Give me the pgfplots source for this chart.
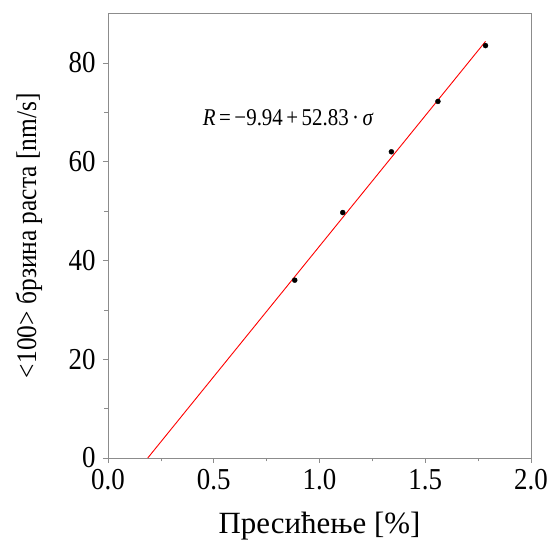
\documentclass[border=0pt]{standalone}
\usepackage{fontspec}
\setmainfont{Liberation Serif}
\usepackage{pgfplots}
\pgfplotsset{compat=1.18}
\definecolor{axgray}{RGB}{140,140,140}
\begin{document}
\begin{tikzpicture}
\begin{axis}[
  name=ax,
  scale only axis,
  width=423bp, height=444.5bp,
  xmin=0, xmax=2, ymin=0, ymax=90,
  xtick={0,0.5,1,1.5,2},
  ytick={0,20,40,60,80},
  minor xtick={0.25,0.75,1.25,1.75},
  minor ytick={10,30,50,70},
  xticklabel style={/pgf/number format/fixed,/pgf/number format/fixed zerofill,/pgf/number format/precision=1},
  /pgf/number format/assume math mode=true,
  xticklabel={\scalebox{1}[1.13]{\pgfmathprintnumber{\tick}}},
  yticklabel={\scalebox{1}[1.13]{\pgfmathprintnumber{\tick}}},
  tick align=outside,
  xtick pos=bottom, ytick pos=left,
  major tick length=5bp, minor tick length=3.5bp,
  axis line style={axgray, line width=0.8bp},
  every tick/.style={axgray, line width=0.6bp},
  tick label style={font=\rmfamily\fontsize{27}{29}\selectfont, black},
  xticklabel style={yshift=-3bp},
  yticklabel style={xshift=-4bp},
  xlabel={Пресићење [\%]},
  ylabel={\scalebox{1}[1.12]{<100> брзина раста [nm/s]}},
  xlabel style={font=\rmfamily\fontsize{31}{33}\selectfont, at={(axis description cs:0.5,-0.153)}, anchor=center},
  ylabel style={font=\rmfamily\fontsize{25.5}{28}\selectfont, at={(axis description cs:-0.187,0.5)}, anchor=center},
  clip=false,
]
\addplot[red, line width=0.9bp, no marks] coordinates {(0.188,0) (1.785,84.36)};
\addplot[only marks, mark=*, mark size=2.5bp, black] coordinates {
(0.883,36.0) (1.11,49.7) (1.34,62.0) (1.56,72.2) (1.785,83.5)};
\node[anchor=base west, inner sep=0pt, font=\fontsize{21}{23}\selectfont] at (axis cs:0.448,67.3) {\scalebox{1}[1.15]{\textit{R}\,=\,−9.94\,+\,52.83\,·\,\textit{σ}}};
\end{axis}
\pgfresetboundingbox
\path[use as bounding box] ([shift={(-108bp,-85bp)}]ax.south west) rectangle ([shift={(21bp,13.5bp)}]ax.north east);
\end{tikzpicture}
\end{document}
